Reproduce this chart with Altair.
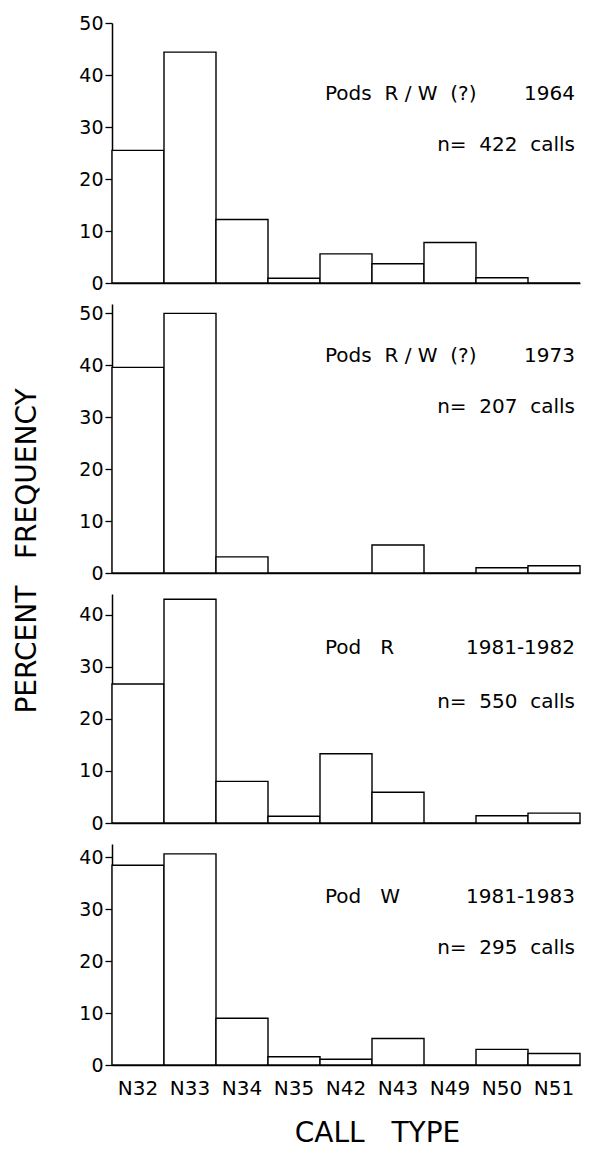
import altair as alt
import pandas as pd

# Call-type repertoire on the x axis
call_types = ["N32", "N33", "N34", "N35", "N42", "N43", "N49", "N50", "N51"]

# Percent frequency of each call type, one list per recording set
pct_rw_1964 = [25.5, 44.4, 12.2, 0.9, 5.6, 3.7, 7.8, 1.0, 0.0]
pct_rw_1973 = [39.6, 50.0, 3.1, 0.0, 0.0, 5.4, 0.0, 1.0, 1.4]
pct_r_1981 = [26.7, 43.0, 8.0, 1.3, 13.3, 5.9, 0.0, 1.4, 1.9]
pct_w_1981 = [38.4, 40.6, 9.0, 1.6, 1.1, 5.1, 0.0, 3.0, 2.2]

# Panel captions (non-breaking spaces keep the wide word gaps in SVG text)
NB = "\u00a0"
group_labels = [f"Pods{NB*2}R{NB}/{NB}W{NB*2}(?)", f"Pods{NB*2}R{NB}/{NB}W{NB*2}(?)",
                f"Pod{NB*3}R", f"Pod{NB*3}W"]
period_labels = ["1964", "1973", "1981-1982", "1981-1983"]
sample_labels = [f"n={NB*2}422{NB*2}calls", f"n={NB*2}207{NB*2}calls",
                 f"n={NB*2}550{NB*2}calls", f"n={NB*2}295{NB*2}calls"]
y_title = f"PERCENT{NB*3}FREQUENCY"
x_title = f"CALL{NB*3}TYPE"

# Axis ranges / tick values per panel
y_max = [50, 51.8, 44, 42.5]
y_ticks = [[0, 10, 20, 30, 40, 50], [0, 10, 20, 30, 40, 50], [0, 10, 20, 30, 40], [0, 10, 20, 30, 40]]

FONT = "DejaVu Sans"
W = 468
PX_PER_UNIT = 5.2
caption_y = [(71, 122), (52, 103), (54, 108), (53, 104)]

series = [pct_rw_1964, pct_rw_1973, pct_r_1981, pct_w_1981]
panels = []
for i, vals in enumerate(series):
    last = i == len(series) - 1
    df = pd.DataFrame({"call": call_types, "pct": vals})
    h = round(y_max[i] * PX_PER_UNIT)

    x_axis = alt.Axis(
        title=x_title if last else None,
        labels=last,
        ticks=False,
        domain=True,
        domainColor="black",
        domainWidth=1.5,
        labelAngle=0,
        labelFont=FONT,
        labelFontSize=20,
        labelColor="black",
        labelPadding=13,
        titleFont=FONT,
        titleFontSize=28,
        titleFontWeight="normal",
        titleColor="black",
        titleX=265,
        titleY=76,
        titleBaseline="alphabetic",
    )
    y_axis = alt.Axis(
        title=None,
        values=y_ticks[i],
        grid=False,
        domainColor="black",
        domainWidth=1.5,
        tickColor="black",
        tickWidth=1.3,
        tickSize=7,
        labelFont=FONT,
        labelFontSize=19,
        labelColor="black",
        labelPadding=2,
    )

    bars = alt.Chart(df).mark_bar(fill="white", stroke="black", strokeWidth=1.4).encode(
        x=alt.X("call:N", sort=call_types,
                scale=alt.Scale(paddingInner=0, paddingOuter=0), axis=x_axis),
        y=alt.Y("pct:Q", scale=alt.Scale(domain=[0, y_max[i]], nice=False, zero=True),
                axis=y_axis),
    )

    y1, y2 = caption_y[i]
    cap = pd.DataFrame({"group": [group_labels[i]], "period": [period_labels[i]],
                        "n": [sample_labels[i]]})
    txt = alt.Chart(cap)
    group_txt = txt.mark_text(align="left", baseline="middle", font=FONT, fontSize=20,
                              color="black").encode(
        text="group:N", x=alt.value(213), y=alt.value(y1))
    period_txt = txt.mark_text(align="right", baseline="middle", font=FONT, fontSize=20,
                               color="black").encode(
        text="period:N", x=alt.value(W - 5), y=alt.value(y1))
    n_txt = txt.mark_text(align="right", baseline="middle", font=FONT, fontSize=20,
                          color="black").encode(
        text="n:N", x=alt.value(W - 5), y=alt.value(y2))

    layers = [bars, group_txt, period_txt, n_txt]
    if i == 1:
        ytitle = alt.Chart(pd.DataFrame({"t": [y_title]})).mark_text(
            angle=270, align="center", baseline="middle", font=FONT, fontSize=28,
            color="black").encode(text="t:N", x=alt.value(-84), y=alt.value(247))
        layers.append(ytitle)

    panels.append(
        alt.layer(*layers).properties(
            width=W, height=h, view=alt.ViewBackground(strokeWidth=0, stroke="transparent")
        )
    )

chart = alt.vconcat(*panels, spacing=21, bounds="flush").properties(
    padding={"left": 13, "top": 14, "right": 5, "bottom": 0}
).configure_view(stroke="transparent", strokeWidth=0).configure(background="white")

chart.save("out.html", embed_options={"renderer": "svg", "actions": False})
